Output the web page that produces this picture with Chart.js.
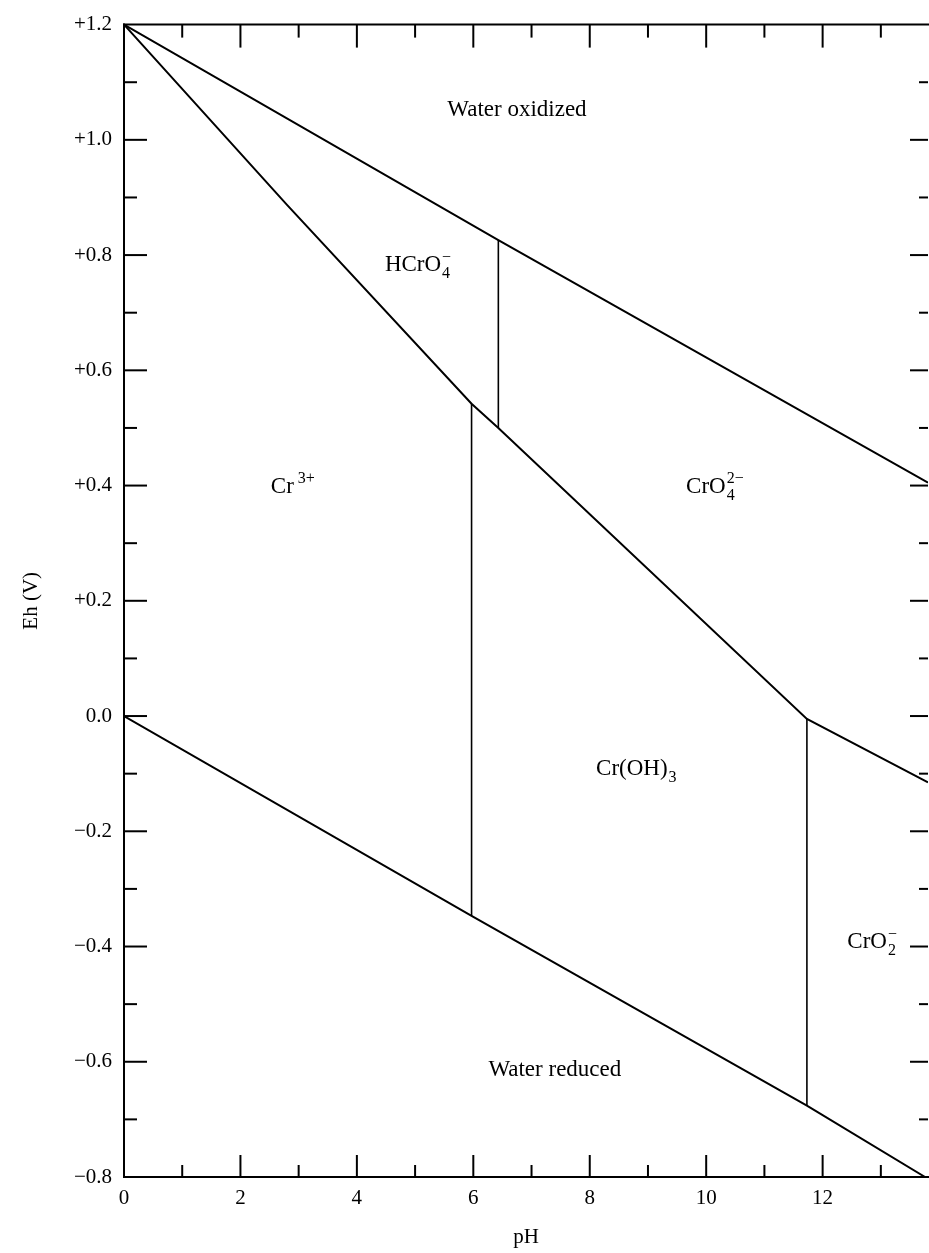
<!DOCTYPE html>
<html>
<head>
<meta charset="utf-8">
<script src="https://cdn.jsdelivr.net/npm/chart.js@4/dist/chart.umd.min.js"></script>
<style>
html,body{margin:0;padding:0;background:#fff;}
canvas{display:block;}
</style>
</head>
<body>
<canvas id="c" width="929" height="1253"></canvas>
<script>
// ---- axis ticks ----
const xTicks = [0, 2, 4, 6, 8, 10, 12];
const xMinorTicks = [1, 3, 5, 7, 9, 11, 13];
const yTicks = [-0.8, -0.6, -0.4, -0.2, 0.0, 0.2, 0.4, 0.6, 0.8, 1.0, 1.2];
const yTickLabels = ['\u22120.8', '\u22120.6', '\u22120.4', '\u22120.2', '0.0', '+0.2', '+0.4', '+0.6', '+0.8', '+1.0', '+1.2'];
const yMinorTicks = [-0.7, -0.5, -0.3, -0.1, 0.1, 0.3, 0.5, 0.7, 0.9, 1.1];

// ---- boundary lines (pH, Eh in V) ----
const upperWaterPH = [0, 6.43, 13.81];
const upperWaterEh = [1.2, 0.826, 0.405];

const lowerWaterPH = [0, 5.97, 11.73, 13.76];
const lowerWaterEh = [0.0, -0.347, -0.676, -0.8];

const chromiumBoundaryPH = [0, 2.8, 5.97, 6.43, 11.73, 13.81];
const chromiumBoundaryEh = [1.2, 0.887, 0.542, 0.50, -0.005, -0.115];

const hcro4VerticalPH = [6.43, 6.43];
const hcro4VerticalEh = [0.826, 0.50];

const cr3VerticalPH = [5.97, 5.97];
const cr3VerticalEh = [0.542, -0.347];

const cro2VerticalPH = [11.73, 11.73];
const cro2VerticalEh = [-0.005, -0.676];

// ---- region labels ----
const regionNames = ['Water oxidized', 'HCrO4-', 'Cr3+', 'CrO4 2-', 'Cr(OH)3', 'CrO2-', 'Water reduced'];
const regionPH = [6.75, 5.05, 2.9, 10.15, 8.8, 12.85, 7.4];
const regionEh = [1.055, 0.785, 0.40, 0.40, -0.09, -0.39, -0.612];
const regionParts = [
  [{t: 'Water oxidized'}],
  [{t: 'HCrO'}, {sub: '4', sup: '\u2212'}],
  [{t: 'Cr'}, {sup: '3+', gap: 4}],
  [{t: 'CrO'}, {sub: '4', sup: '2\u2212'}],
  [{t: 'Cr(OH)'}, {sub: '3'}],
  [{t: 'CrO'}, {sub: '2', sup: '\u2212'}],
  [{t: 'Water reduced'}]
];

function pts(xs, ys) { return xs.map((x, i) => ({x: x, y: ys[i]})); }

const FONT = '"Liberation Serif", "Times New Roman", serif';

function lineDs(label, xs, ys, w) {
  return {
    label: label, data: pts(xs, ys), showLine: true, borderColor: '#000',
    borderWidth: w, pointRadius: 0, fill: false, tension: 0
  };
}

function drawRich(ctx, cx, cy, parts, size) {
  const main = size + 'px ' + FONT;
  const small = Math.round(size * 0.68) + 'px ' + FONT;
  const segs = [];
  let total = 0;
  parts.forEach(p => {
    if (p.t !== undefined) {
      ctx.font = main;
      const w = ctx.measureText(p.t).width;
      segs.push({t: p.t, w: w});
      total += w;
    } else {
      ctx.font = small;
      const a = p.sub ? ctx.measureText(p.sub).width : 0;
      const b = p.sup ? ctx.measureText(p.sup).width : 0;
      const g = p.gap || 1;
      const w = Math.max(a, b) + g;
      segs.push({sub: p.sub, sup: p.sup, w: w, g: g});
      total += w;
    }
  });
  let x = cx - total / 2;
  const base = cy + size * 0.33;
  ctx.textAlign = 'left';
  ctx.textBaseline = 'alphabetic';
  ctx.fillStyle = '#000';
  segs.forEach(s => {
    if (s.t !== undefined) {
      ctx.font = main;
      ctx.fillText(s.t, x, base);
    } else {
      ctx.font = small;
      if (s.sub) ctx.fillText(s.sub, x + s.g, base + size * 0.28);
      if (s.sup) ctx.fillText(s.sup, x + s.g, base - size * 0.42);
    }
    x += s.w;
  });
}

const framePlugin = {
  id: 'framePlugin',
  afterDatasetsDraw(chart) {
    const ctx = chart.ctx;
    const a = chart.chartArea;
    const xs = chart.scales.x, ys = chart.scales.y;
    ctx.save();
    ctx.strokeStyle = '#000';
    ctx.lineWidth = 2;
    ctx.lineCap = 'butt';
    const seg = (x1, y1, x2, y2) => { ctx.beginPath(); ctx.moveTo(x1, y1); ctx.lineTo(x2, y2); ctx.stroke(); };
    // frame: left, bottom, top
    seg(a.left, a.top - 1, a.left, a.bottom + 1);
    seg(a.left - 1, a.bottom, a.right + 1, a.bottom);
    seg(a.left - 1, a.top, a.right + 1, a.top);
    // x ticks (inward, top and bottom)
    xTicks.forEach(v => {
      if (v === 0) return;
      const p = xs.getPixelForValue(v);
      seg(p, a.bottom, p, a.bottom - 22);
      seg(p, a.top, p, a.top + 23);
    });
    xMinorTicks.forEach(v => {
      const p = xs.getPixelForValue(v);
      seg(p, a.bottom, p, a.bottom - 12);
      seg(p, a.top, p, a.top + 13);
    });
    // y ticks (inward, left and right)
    yTicks.forEach(v => {
      if (v === 1.2 || v === -0.8) return;
      const p = ys.getPixelForValue(v);
      seg(a.left, p, a.left + 23, p);
      seg(a.right, p, a.right - 18, p);
    });
    yMinorTicks.forEach(v => {
      const p = ys.getPixelForValue(v);
      seg(a.left, p, a.left + 13, p);
      seg(a.right, p, a.right - 9, p);
    });
    // region labels
    regionNames.forEach((n, i) => {
      drawRich(ctx, xs.getPixelForValue(regionPH[i]), ys.getPixelForValue(regionEh[i]), regionParts[i], 23);
    });
    ctx.restore();
  }
};

new Chart(document.getElementById('c'), {
  type: 'scatter',
  data: {
    datasets: [
      lineDs('Upper water limit', upperWaterPH, upperWaterEh, 2),
      lineDs('Lower water limit', lowerWaterPH, lowerWaterEh, 2),
      lineDs('Chromium boundary', chromiumBoundaryPH, chromiumBoundaryEh, 2),
      lineDs('HCrO4- / CrO4 2-', hcro4VerticalPH, hcro4VerticalEh, 1.6),
      lineDs('Cr3+ / Cr(OH)3', cr3VerticalPH, cr3VerticalEh, 1.6),
      lineDs('Cr(OH)3 / CrO2-', cro2VerticalPH, cro2VerticalEh, 1.6)
    ]
  },
  options: {
    responsive: false,
    animation: false,
    devicePixelRatio: 1,
    layout: {padding: {left: 0, top: 19, right: 1, bottom: 0}},
    plugins: {legend: {display: false}, tooltip: {enabled: false}},
    scales: {
      x: {
        type: 'linear', min: 0, max: 13.81,
        afterBuildTicks: s => { s.ticks = xTicks.map(v => ({value: v})); },
        afterFit: s => { s.height = 76; },
        grid: {display: false, drawTicks: false, tickLength: 0},
        border: {display: false},
        ticks: {autoSkip: false, maxRotation: 0, padding: 9, color: '#000',
                font: {family: FONT, size: 21}, callback: v => String(v)},
        title: {display: true, text: 'pH', color: '#000',
                font: {family: FONT, size: 21}, padding: {top: 0, bottom: 3}}
      },
      y: {
        type: 'linear', min: -0.8, max: 1.2,
        afterBuildTicks: s => { s.ticks = yTicks.map(v => ({value: v})); },
        afterFit: s => { s.width = 124; },
        grid: {display: false, drawTicks: false, tickLength: 0},
        border: {display: false},
        ticks: {autoSkip: false, padding: 12, color: '#000',
                font: {family: FONT, size: 21}, callback: (v, i) => yTickLabels[i]},
        title: {display: true, text: 'Eh (V)', color: '#000',
                font: {family: FONT, size: 21}, padding: {top: 19, bottom: 0}}
      }
    }
  },
  plugins: [framePlugin]
});
</script>
</body>
</html>
